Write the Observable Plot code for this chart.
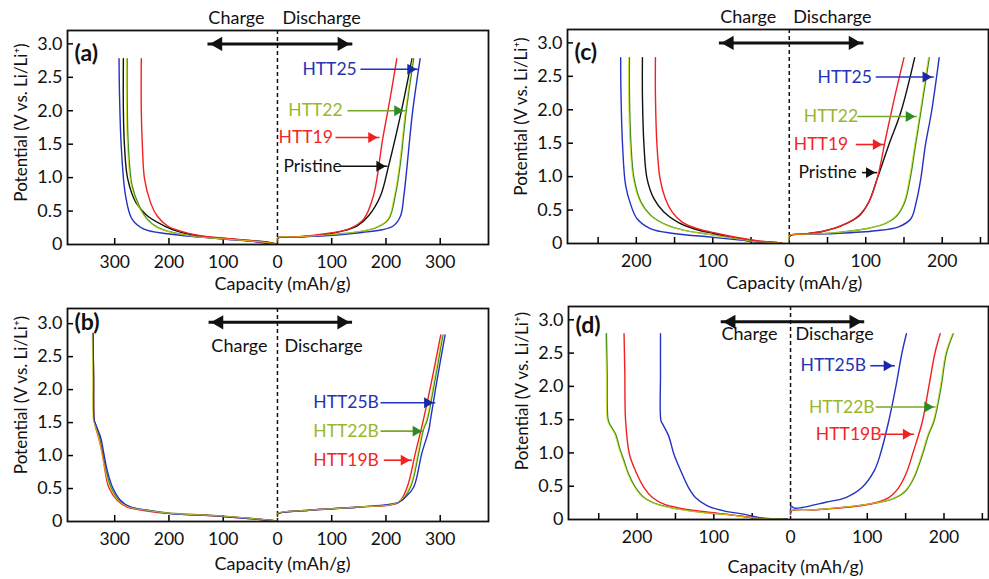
<!DOCTYPE html>
<html><head><meta charset="utf-8">
<script src="https://cdn.jsdelivr.net/npm/d3@7"></script>
<script src="https://cdn.jsdelivr.net/npm/@observablehq/plot@0.6"></script>
<style>
html,body{margin:0;padding:0;background:#fff;}
#fig{position:relative;width:989px;height:579px;overflow:hidden;font-family:Lato,sans-serif;}
#fig > div{position:absolute;}
</style></head><body><div id="fig"></div>
<script>
// ===== Data: [capacity (mAh/g), potential (V vs Li/Li+)] =====
// Panel (a) charge
const aChgPristine = [[2,0.01],[20,0.04],[50,0.06],[81,0.08],[142,0.125],[185,0.20],[209,0.28],[240,0.43],[261,0.63],[276,0.98],[282,1.48],[284,2.0],[284,2.78]];
const aChgHTT19 = [[2,0.01],[30,0.04],[60,0.065],[93,0.09],[142,0.13],[179,0.20],[203,0.28],[222,0.43],[234,0.63],[245,0.98],[249,1.48],[251,2.0],[251,2.78]];
const aChgHTT22 = [[2,0.01],[30,0.04],[60,0.06],[100,0.085],[142,0.11],[193,0.18],[222,0.26],[240,0.38],[255,0.58],[268,0.88],[275,1.48],[277,2.2],[277,2.78]];
const aChgHTT25 = [[2,0.01],[13,0.01],[40,0.04],[80,0.07],[142,0.11],[203,0.16],[246,0.23],[268,0.38],[280,0.73],[288,1.48],[291,2.2],[292,2.78]];
// Panel (a) discharge
const aDisHTT19 = [[0,0.05],[1,0.10],[20,0.11],[45,0.12],[88,0.16],[131,0.23],[159,0.38],[177,0.73],[194,1.58],[208,2.2],[220,2.78]];
const aDisPristine = [[0,0.05],[1,0.10],[30,0.11],[69,0.13],[119,0.20],[147,0.28],[168,0.43],[190,0.73],[205,1.18],[228,1.98],[248,2.78]];
const aDisHTT22 = [[0,0.05],[1,0.10],[40,0.115],[88,0.14],[150,0.19],[184,0.26],[205,0.38],[217,0.73],[226,1.18],[237,1.98],[251,2.78]];
const aDisHTT25 = [[0,0.05],[1,0.10],[40,0.115],[88,0.13],[156,0.18],[193,0.22],[214,0.28],[227,0.43],[233,0.73],[239,1.18],[249,1.98],[263,2.78]];
// Panel (c) charge
const cChgHTT25 = [[10,0.01],[40,0.02],[64,0.05],[107,0.10],[151,0.15],[181,0.22],[199,0.37],[207,0.57],[214,0.87],[218,1.47],[220,2.2],[220.5,2.78]];
const cChgHTT22 = [[10,0.01],[45,0.03],[77,0.09],[107,0.14],[138,0.20],[159,0.27],[181,0.42],[194,0.62],[203,0.97],[207,1.47],[209,2.2],[209,2.78]];
const cChgPristine = [[10,0.01],[45,0.04],[73,0.09],[99,0.15],[125,0.22],[146,0.32],[164,0.47],[177,0.67],[186,0.97],[190,1.47],[192,2.2],[192,2.78]];
const cChgHTT19 = [[10,0.01],[40,0.04],[68,0.09],[94,0.15],[120,0.22],[140,0.32],[153,0.47],[162,0.67],[169,0.97],[173,1.47],[175,2.2],[175,2.78]];
// Panel (c) discharge
const cDisHTT19 = [[0,0.05],[1,0.12],[17,0.14],[43,0.18],[69,0.27],[91,0.42],[104,0.62],[115,0.97],[126,1.57],[138,2.2],[150,2.78]];
const cDisPristine = [[0,0.05],[1,0.12],[17,0.14],[43,0.18],[69,0.27],[92,0.42],[104,0.62],[115,0.97],[130,1.47],[146,1.97],[164,2.78]];
const cDisHTT22 = [[0,0.05],[1,0.12],[30,0.14],[61,0.16],[100,0.22],[126,0.30],[141,0.42],[151,0.62],[158,0.97],[165,1.47],[172,1.97],[183,2.78]];
const cDisHTT25 = [[0,0.05],[1,0.12],[30,0.14],[61,0.15],[113,0.19],[143,0.25],[159,0.37],[166,0.62],[172,0.97],[178,1.47],[186,1.97],[196,2.78]];
// Panel (b) charge
const bChgHTT19B = [[0,0.01],[31,0.03],[105,0.08],[197,0.12],[240,0.16],[277,0.22],[295,0.32],[311,0.52],[318,0.78],[323,1.03],[330,1.28],[336,1.45],[338,1.54],[339,2.2],[340,2.85]];
const bChgHTT22B = [[0,0.01],[31,0.035],[105,0.085],[197,0.125],[240,0.17],[273,0.22],[292,0.32],[307,0.52],[316,0.78],[322,1.03],[328,1.28],[336,1.49],[338,1.54],[339,2.2],[340,2.85]];
const bChgHTT25B = [[0,0.01],[31,0.03],[105,0.08],[197,0.12],[240,0.17],[271,0.22],[289,0.32],[304,0.52],[314,0.78],[320,1.03],[326,1.28],[336,1.49],[338,1.54],[339,2.2],[340,2.85]];
// Panel (b) discharge
const bDisHTT19B = [[0,0.08],[1,0.12],[58,0.17],[150,0.22],[223,0.29],[239,0.52],[254,1.03],[269,1.54],[282,2.04],[301,2.83]];
const bDisHTT22B = [[0,0.08],[1,0.12],[58,0.17],[150,0.22],[223,0.29],[245,0.52],[260,1.03],[269,1.39],[276,1.54],[288,2.04],[305,2.83]];
const bDisHTT25B = [[0,0.08],[1,0.12],[58,0.17],[150,0.22],[223,0.29],[236,0.37],[251,0.52],[266,1.03],[279,1.39],[282,1.54],[292,2.04],[309,2.83]];
// Panel (d) charge
const dChgHTT22B = [[5,0.01],[43,0.02],[78,0.07],[113,0.105],[148,0.16],[174,0.23],[191,0.33],[202,0.48],[211,0.68],[217,0.88],[223,1.08],[228,1.28],[236,1.44],[238,1.51],[239,2.2],[240,2.79]];
const dChgHTT19B = [[5,0.01],[43,0.02],[78,0.07],[104,0.105],[139,0.16],[165,0.23],[180,0.33],[191,0.48],[202,0.73],[210,0.98],[215,1.49],[216,2.2],[217,2.79]];
const dChgHTT25B = [[5,0.01],[35,0.02],[61,0.08],[87,0.13],[109,0.21],[124,0.33],[133,0.48],[143,0.73],[152,0.98],[159,1.26],[167,1.44],[169,1.49],[169.5,2.2],[169.5,2.79]];
// Panel (d) discharge
const dDisHTT25B = [[0,0.1],[1,0.2],[5,0.17],[15,0.18],[46,0.26],[72,0.33],[93,0.48],[109,0.73],[117,0.98],[128,1.48],[137,1.98],[145,2.49],[151,2.79]];
const dDisHTT19B = [[0,0.08],[1,0.13],[37,0.15],[102,0.23],[128,0.33],[141,0.48],[152,0.73],[159,0.98],[172,1.48],[180,1.98],[188,2.49],[195,2.79]];
const dDisHTT22B = [[0,0.08],[1,0.13],[37,0.15],[102,0.23],[133,0.31],[150,0.43],[161,0.63],[172,0.98],[180,1.28],[187,1.48],[196,1.98],[203,2.49],[212,2.79]];

// ===== Tick values =====
const yTickValues = [0, 0.5, 1.0, 1.5, 2.0, 2.5, 3.0];
const abTickMarks = [-300, -200, -100, 100, 200, 300];
const abTickLabels = [-300, -200, -100, 0, 100, 200, 300];
const cdTickMarks = [-250, -200, -150, -100, -50, 50, 100, 150, 200, 250];
const cdTickLabels = [-200, -100, 0, 100, 200];

// ===== Annotation placement (data units) =====
const aLabels = [
  {name: "HTT25", y: 2.62, tx: 46, ax1: 153, ax2: 260},
  {name: "HTT22", y: 2.0, tx: 20, ax1: 129, ax2: 236},
  {name: "HTT19", y: 1.6, tx: 2, ax1: 107, ax2: 188},
  {name: "Pristine", y: 1.17, tx: 11, ax1: 116, ax2: 203}
];
const cLabels = [
  {name: "HTT25", y: 2.49, tx: 37, ax1: 113, ax2: 189},
  {name: "HTT22", y: 1.90, tx: 19, ax1: 89, ax2: 167},
  {name: "HTT19", y: 1.48, tx: 6, ax1: 87, ax2: 124},
  {name: "Pristine", y: 1.06, tx: 12, ax1: 95, ax2: 115}
];
const bLabels = [
  {name: "HTT25B", y: 1.80, tx: 66, ax1: 190, ax2: 291},
  {name: "HTT22B", y: 1.37, tx: 66, ax1: 190, ax2: 270},
  {name: "HTT19B", y: 0.93, tx: 66, ax1: 196, ax2: 248}
];
const dLabels = [
  {name: "HTT25B", y: 2.31, tx: 13, ax1: 104, ax2: 136},
  {name: "HTT22B", y: 1.69, tx: 24, ax1: 111, ax2: 189},
  {name: "HTT19B", y: 1.28, tx: 33, ax1: 117, ax2: 161}
];

// ===== Styles =====
const base = s => s.replace(/B$/, "");
const curveColor = {HTT25: "#2332c4", HTT22: "#3b8c26", HTT19: "#f22020", Pristine: "#111111"};
const textColor = {HTT25: "#2433b4", HTT22: "#98b82a", HTT19: "#f22626", Pristine: "#111111"};
const arrowColor = {HTT25: "#2433c2", HTT22: "#78a828", HTT19: "#f22020", Pristine: "#111111"};
const headColor = {HTT25: "#1a28a8", HTT22: "#2e8a22", HTT19: "#f22020", Pristine: "#111111"};
const tipOffset = r => 2 * Math.sqrt(Math.PI * r * r / (Math.sqrt(3) * 3));

function makePanel(cfg) {
  const rows = [];
  for (const [name, side, pts] of cfg.series) {
    for (const [cap, v] of pts) rows.push({key: name + side, name: base(name), x: side === "charge" ? -cap : cap, y: v});
  }
  const greenRows = rows.filter(d => d.name === "HTT22");
  const labels = cfg.labels.map(d => ({...d, base: base(d.name)}));
  const rHead = 5.2, rBig = 6.8;
  const topText = cfg.chargeY == null ? {frameAnchor: "top", dy: -12} : {y: cfg.chargeY};
  const marks = [
    Plot.ruleX([0], {stroke: "#111", strokeWidth: 1.5, strokeDasharray: "4,3"}),
    Plot.axisX({ticks: cfg.tickMarks, tickSize: -6, fill: "none", label: null, strokeWidth: 1.5}),
    Plot.axisX({ticks: cfg.tickLabels, tickSize: 0, stroke: "none", tickPadding: 11, tickFormat: d => String(Math.abs(d)), label: null, fontSize: 17.5, fill: "#111"}),
    Plot.axisY({ticks: yTickValues.filter(d => d > 0), tickSize: -6, fill: "none", label: null, strokeWidth: 1.5}),
    Plot.axisY({ticks: yTickValues, tickSize: 0, stroke: "none", tickPadding: 5, tickFormat: d => d === 0 ? "0" : d.toFixed(1), label: null, fontSize: 18, fill: "#111"}),
    Plot.line(rows, {x: "x", y: "y", z: "key", stroke: d => curveColor[d.name], strokeWidth: 1.4, curve: "catmull-rom"}),
    Plot.line(greenRows, {x: "x", y: "y", z: "key", stroke: "#d8e010", strokeWidth: 0.8, dx: -0.9, curve: "catmull-rom"}),
    Plot.frame({stroke: "#111", strokeWidth: 1.8}),
    // double arrow
    Plot.link([cfg.bigArrow], {x1: "x1", x2: "x2", y1: "y", y2: "y", stroke: "#111", strokeWidth: 3}),
    Plot.dot([cfg.bigArrow], {x: "x1", y: "y", symbol: "triangle2", r: rBig, rotate: -90, fill: "#111", dx: tipOffset(rBig)}),
    Plot.dot([cfg.bigArrow], {x: "x2", y: "y", symbol: "triangle2", r: rBig, rotate: 90, fill: "#111", dx: -tipOffset(rBig)}),
    Plot.text(["Charge"], {x: 0, ...topText, dx: cfg.chargeDx, textAnchor: "end", lineAnchor: "middle", fontSize: 18, fill: "#111"}),
    Plot.text(["Discharge"], {x: 0, ...topText, dx: cfg.dischargeDx, textAnchor: "start", lineAnchor: "middle", fontSize: 18, fill: "#111"}),
    // series labels with arrows
    Plot.link(labels, {x1: "ax1", x2: "ax2", y1: "y", y2: "y", stroke: d => arrowColor[d.base], strokeWidth: 1.6}),
    Plot.dot(labels, {x: "ax2", y: "y", symbol: "triangle2", r: rHead, rotate: 90, fill: d => headColor[d.base], dx: -tipOffset(rHead)}),
    Plot.text(labels, {x: "tx", y: "y", text: "name", textAnchor: "start", lineAnchor: "middle", fill: d => textColor[d.base], fontSize: 17.5}),
    // panel tag and axis titles
    Plot.text([cfg.tag], {frameAnchor: "top-left", dx: 7, dy: cfg.tagDy, textAnchor: "start", lineAnchor: "middle", fontWeight: "bold", fontSize: 23, fill: "#111"}),
    Plot.text(["Potential (V vs. Li/Li\u207A)"], {frameAnchor: "left", rotate: -90, dx: -46, dy: cfg.yTitleDy, textAnchor: "middle", lineAnchor: "middle", fontSize: 17, fill: "#111"}),
    Plot.text(["Capacity (mAh/g)"], {x: 0, frameAnchor: "bottom", dy: cfg.xTitleDy, dx: 5, textAnchor: "middle", lineAnchor: "middle", fontSize: 18, fill: "#111"})
  ];
  return Plot.plot({
    width: cfg.width, height: cfg.height,
    marginLeft: cfg.ml, marginRight: cfg.mr, marginTop: cfg.mt, marginBottom: cfg.mb,
    x: {domain: cfg.xDomain},
    y: {domain: cfg.yDomain},
    color: {type: "identity"},
    style: {fontFamily: "Lato, sans-serif", fontSize: "18px", background: "transparent", overflow: "visible"},
    marks
  });
}

const panels = [
  {left: 0, top: 0, width: 490, height: 290, ml: 67, mr: 2, mt: 30, mb: 46,
   xDomain: [-387, 389], yDomain: [0, 3.2], tickMarks: abTickMarks, tickLabels: abTickLabels,
   series: [["Pristine","charge",aChgPristine],["HTT22","charge",aChgHTT22],["HTT25","charge",aChgHTT25],["HTT19","charge",aChgHTT19],
            ["HTT22","discharge",aDisHTT22],["Pristine","discharge",aDisPristine],["HTT25","discharge",aDisHTT25],["HTT19","discharge",aDisHTT19]],
   labels: aLabels, bigArrow: {x1: -129, x2: 138, y: 3.0}, chargeY: null, chargeDx: -13, dischargeDx: 5,
   tag: "(a)", tagDy: 23, yTitleDy: -15, xTitleDy: 40},
  {left: 500, top: 0, width: 489, height: 290, ml: 67, mr: 1, mt: 29, mb: 47,
   xDomain: [-290, 260.5], yDomain: [0, 3.2], tickMarks: cdTickMarks, tickLabels: cdTickLabels,
   series: [["HTT22","charge",cChgHTT22],["HTT25","charge",cChgHTT25],["Pristine","charge",cChgPristine],["HTT19","charge",cChgHTT19],
            ["HTT22","discharge",cDisHTT22],["HTT25","discharge",cDisHTT25],["Pristine","discharge",cDisPristine],["HTT19","discharge",cDisHTT19]],
   labels: cLabels, bigArrow: {x1: -92, x2: 97, y: 3.0}, chargeY: null, chargeDx: -13, dischargeDx: 4,
   tag: "(c)", tagDy: 23, yTitleDy: -20, xTitleDy: 40},
  {left: 0, top: 290, width: 490, height: 289, ml: 67, mr: 2, mt: 18, mb: 58,
   xDomain: [-387, 389], yDomain: [0, 3.23], tickMarks: abTickMarks, tickLabels: abTickLabels,
   series: [["HTT22B","charge",bChgHTT22B],["HTT19B","charge",bChgHTT19B],["HTT25B","charge",bChgHTT25B],
            ["HTT22B","discharge",bDisHTT22B],["HTT19B","discharge",bDisHTT19B],["HTT25B","discharge",bDisHTT25B]],
   labels: bLabels, bigArrow: {x1: -127, x2: 137.5, y: 3.02}, chargeY: 2.66, chargeDx: -10, dischargeDx: 7,
   tag: "(b)", tagDy: 14, yTitleDy: -20, xTitleDy: 43},
  {left: 500, top: 290, width: 489, height: 289, ml: 68, mr: 1, mt: 16, mb: 60,
   xDomain: [-289.4, 258], yDomain: [0, 3.2], tickMarks: cdTickMarks, tickLabels: cdTickLabels,
   series: [["HTT22B","charge",dChgHTT22B],["HTT19B","charge",dChgHTT19B],["HTT25B","charge",dChgHTT25B],
            ["HTT22B","discharge",dDisHTT22B],["HTT19B","discharge",dDisHTT19B],["HTT25B","discharge",dDisHTT25B]],
   labels: dLabels, bigArrow: {x1: -91, x2: 96, y: 2.97}, chargeY: 2.79, chargeDx: -13, dischargeDx: 5,
   tag: "(d)", tagDy: 19, yTitleDy: -22, xTitleDy: 48}
];

const fig = document.getElementById("fig");
for (const p of panels) {
  const holder = document.createElement("div");
  holder.style.left = p.left + "px";
  holder.style.top = p.top + "px";
  holder.style.width = p.width + "px";
  holder.style.height = p.height + "px";
  holder.appendChild(makePanel(p));
  fig.appendChild(holder);
}
</script>
</body></html>
